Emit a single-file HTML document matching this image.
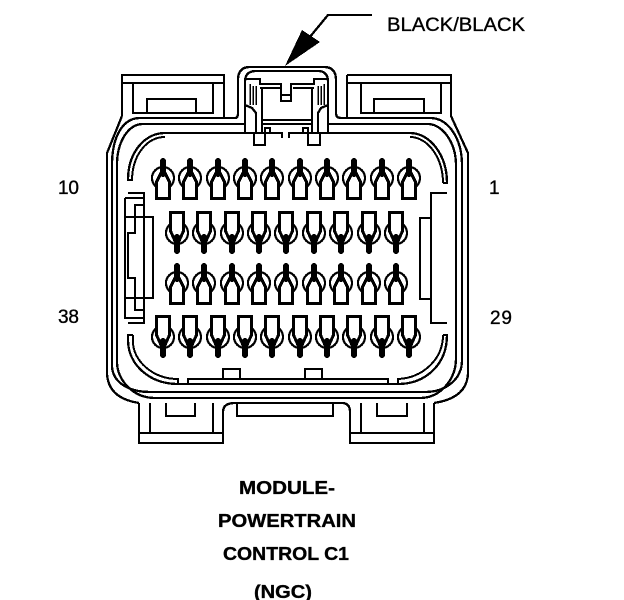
<!DOCTYPE html>
<html><head><meta charset="utf-8"><style>
html,body{margin:0;padding:0;background:#fff}
svg{display:block}
text{font-family:"Liberation Sans",sans-serif;fill:#000;stroke:#000;stroke-width:.35px}
</style></head><body>
<svg width="624" height="600" viewBox="0 0 624 600" xmlns="http://www.w3.org/2000/svg">
<defs>
<g id="u" shape-rendering="crispEdges">
<path d="M-7 28.500A11 11 0 1 1 7 28.500" fill="none" stroke="#000" stroke-width="2.200"/>
<path d="M-6.500 40.500V24L-2 15H2L6.500 24V40.500Z" fill="#fff" stroke="#000" stroke-width="3"/>
<path d="M0 3V16" stroke="#000" stroke-width="6" stroke-linecap="round"/>
</g>
<g id="d" shape-rendering="crispEdges">
<path d="M-7 13.500A11 11 0 1 0 7 13.500" fill="none" stroke="#000" stroke-width="2.200"/>
<path d="M-6.500 1.500V20L-2 30H2L6.500 20V1.500Z" fill="#fff" stroke="#000" stroke-width="3"/>
<path d="M0 26V40" stroke="#000" stroke-width="6" stroke-linecap="round"/>
</g>
</defs>
<g fill="none" stroke="#000" stroke-width="2.300" shape-rendering="crispEdges">
<!-- arrow -->
<path d="M372 15H328L309 38"/>
<path d="M285 66L302 30L320 42Z" fill="#000" stroke="none"/>
<!-- outer housing -->
<path d="M122 116V75H224V118"/>
<path d="M122 83H224M133 83V113H213V83M147 113V99H196V113"/>
<path d="M122 116L107 153V372Q107 398 139 403"/>
<path d="M347 75H451V116L468 153V372Q468 398 434 403"/>
<path d="M347 118V75M347 83H451M361 83V113H441V83M374 113V99H424V113"/>
<path d="M235 118Q238 118 238 113V80Q238 67 250 67H324Q336 67 336 80V113Q336 118 341 118"/>
<path d="M245 133V82Q245 71 256 71H318Q328 71 328 82V133"/>
<!-- concentric lines -->
<path d="M235 118H140C122 118 112 138 112 165V365C112 382 128 392 150 392H425C445 392 462 380 462 360V165C462 138 448 118 430 118H341"/>
<path d="M245 124H143C128 124 117 142 117 165V362C117 380 133 398 155 398H420C440 398 456 380 456 358V165C456 142 442 124 428 124H328"/>
<path d="M282 138V133H165C145 133 128 152 128 180H133"/>
<path d="M289 138V133H410C430 133 447 155 447 183H443"/>
<path d="M165 137C147 137 132 155 132 181" stroke-width="2"/>
<path d="M410 137C428 137 443 158 443 183" stroke-width="2"/>
<path d="M133 335H128V340C128 365 150 384 178 384H398C425 384 447 365 447 335H443"/>
<path d="M133 335V342C133 360 152 379 178 379V384" stroke-width="2"/>
<path d="M188 384V379H388V384"/>
<path d="M398 384V379C422 378 443 360 443 335" stroke-width="2"/>
<path d="M223 379V369H240V379M305 379V369H322V379"/>
<!-- hood internals -->
<path d="M245 79H260V84H281V101H291V84H314V79H328"/>
<path d="M281 95H291"/>
<path d="M260 88H280M293 88H314" stroke-width="2"/>
<path d="M262 88V133M312 88V133"/>
<path d="M262 120H312M262 124H312" stroke-width="2"/>
<path d="M250 84V105M253 86V105M256 86V105M318 86V105M321 86V105M324 84V105" stroke-width="1.500"/>
<path d="M245 105L252 108L256 113V133M328 105L321 108L318 113V133"/>
<path d="M265 133V128H270V133M303 133V128H308V133"/>
<path d="M254 133V145H265V133M308 133V145H320V133"/>
<!-- left bracket -->
<path d="M125 198H144V193H128M144 193V323H128M125 198V318H144"/>
<path d="M125 217H153V298H125"/>
<path d="M144 205H135V233H128V278H135V310H144"/>
<!-- right bracket -->
<path d="M447 193H431V323H447"/>
<path d="M431 218H420V299H431"/>
<!-- bottom tabs -->
<path d="M139 403V443H223V412Q223 403 235 403H342Q350 403 350 412V443H434V403"/>
<path d="M139 433H223M350 433H434"/>
<path d="M150 403V433M213 403V433M361 403V433M424 403V433"/>
<path d="M166 403V416H195V403M377 403V416H407V403"/>
<path d="M237 403V416H333V403"/>
</g>
<!-- pins -->
<use href="#u" x="163" y="158"/><use href="#u" x="190" y="158"/><use href="#u" x="218" y="158"/><use href="#u" x="245" y="158"/><use href="#u" x="272" y="158"/><use href="#u" x="300" y="158"/><use href="#u" x="327" y="158"/><use href="#u" x="354" y="158"/><use href="#u" x="382" y="158"/><use href="#u" x="409" y="158"/>
<use href="#d" x="177" y="211"/><use href="#d" x="204" y="211"/><use href="#d" x="232" y="211"/><use href="#d" x="259" y="211"/><use href="#d" x="286" y="211"/><use href="#d" x="314" y="211"/><use href="#d" x="341" y="211"/><use href="#d" x="369" y="211"/><use href="#d" x="396" y="211"/>
<use href="#u" x="177" y="263"/><use href="#u" x="204" y="263"/><use href="#u" x="232" y="263"/><use href="#u" x="259" y="263"/><use href="#u" x="286" y="263"/><use href="#u" x="314" y="263"/><use href="#u" x="341" y="263"/><use href="#u" x="369" y="263"/><use href="#u" x="396" y="263"/>
<use href="#d" x="163" y="315"/><use href="#d" x="190" y="315"/><use href="#d" x="218" y="315"/><use href="#d" x="245" y="315"/><use href="#d" x="272" y="315"/><use href="#d" x="300" y="315"/><use href="#d" x="327" y="315"/><use href="#d" x="354" y="315"/><use href="#d" x="382" y="315"/><use href="#d" x="409" y="315"/>
<!-- labels -->
<text x="387" y="31" font-size="19" textLength="138" lengthAdjust="spacingAndGlyphs">BLACK/BLACK</text>
<text x="58" y="194" font-size="19" textLength="21">10</text>
<text x="58" y="323" font-size="19" textLength="21">38</text>
<text x="489" y="194" font-size="19">1</text>
<text x="490" y="324" font-size="19" textLength="22">29</text>
<g font-weight="bold" font-size="18">
<text x="239" y="494" textLength="96" lengthAdjust="spacingAndGlyphs">MODULE-</text>
<text x="218" y="527" textLength="138" lengthAdjust="spacingAndGlyphs">POWERTRAIN</text>
<text x="223" y="560" textLength="126" lengthAdjust="spacingAndGlyphs">CONTROL C1</text>
<text x="254" y="598" textLength="58" lengthAdjust="spacingAndGlyphs">(NGC)</text>
</g>
</svg>
</body></html>
